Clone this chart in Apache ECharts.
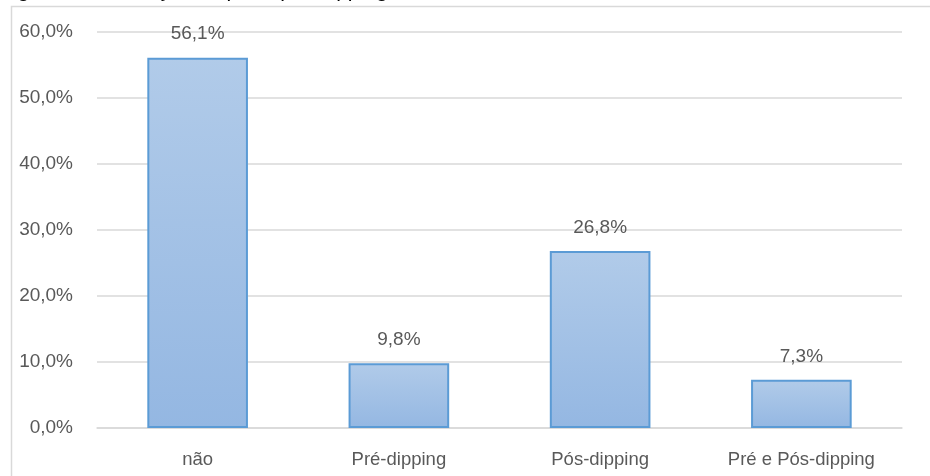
<!DOCTYPE html>
<html>
<head>
<meta charset="utf-8">
<title>Utilização do pré e pós dipping</title>
<script src="https://cdn.jsdelivr.net/npm/echarts@6/dist/echarts.min.js"></script>
<style>
  html, body { margin: 0; padding: 0; background: #fff; }
  #main { width: 930px; height: 476px; }
</style>
</head>
<body>
<div id="main"></div>
<script type="text/javascript">
// dados
var categorias = ['não', 'Pré-dipping', 'Pós-dipping', 'Pré e Pós-dipping'];
var percentuais = [56.1, 9.8, 26.8, 7.3];
var eixoY = { min: 0, max: 60, passo: 10 };
var tituloFigura = 'Figura 4 – Utilização do pré e pós dipping dos entrevistados';

function fmt(v) {
  return v.toFixed(1).replace('.', ',') + '%';
}

var chart = echarts.init(document.getElementById('main'));
var fonte = '"Liberation Sans", "DejaVu Sans", sans-serif';

var option = {
  animation: false,
  graphic: [
    {
      type: 'rect',
      shape: { x: 11.5, y: 6.5, width: 940, height: 500 },
      style: { fill: 'none', stroke: '#d9d9d9', lineWidth: 1.5 }
    },
    {
      type: 'text',
      left: 0,
      top: -19,
      style: { text: tituloFigura, fill: '#000', font: '21px ' + fonte }
    }
  ],
  grid: { left: 97, right: 28, top: 32, bottom: 48 },
  xAxis: {
    type: 'category',
    data: categorias,
    axisTick: { show: false },
    axisLine: { lineStyle: { color: '#d9d9d9', width: 1.5 } },
    axisLabel: { color: '#595959', fontSize: 18.5, fontFamily: fonte, margin: 22, interval: 0 }
  },
  yAxis: {
    type: 'value',
    min: eixoY.min,
    max: eixoY.max,
    interval: eixoY.passo,
    axisLine: { show: false },
    axisTick: { show: false },
    splitLine: { lineStyle: { color: '#d9d9d9', width: 1.5 } },
    axisLabel: {
      color: '#595959', fontSize: 19, fontFamily: fonte, margin: 24,
      formatter: function (v) { return fmt(v); }
    }
  },
  series: [{
    type: 'bar',
    data: percentuais,
    barWidth: '50%',
    itemStyle: {
      color: new echarts.graphic.LinearGradient(0, 0, 0, 1, [
        { offset: 0, color: '#b1cbe9' },
        { offset: 1, color: '#94b7e2' }
      ]),
      borderColor: '#5b9bd5',
      borderWidth: 2
    },
    label: {
      show: true,
      position: 'top',
      distance: 14,
      color: '#595959',
      fontSize: 19,
      fontFamily: fonte,
      formatter: function (p) { return fmt(p.value); }
    }
  }]
};

chart.setOption(option);
</script>
</body>
</html>
